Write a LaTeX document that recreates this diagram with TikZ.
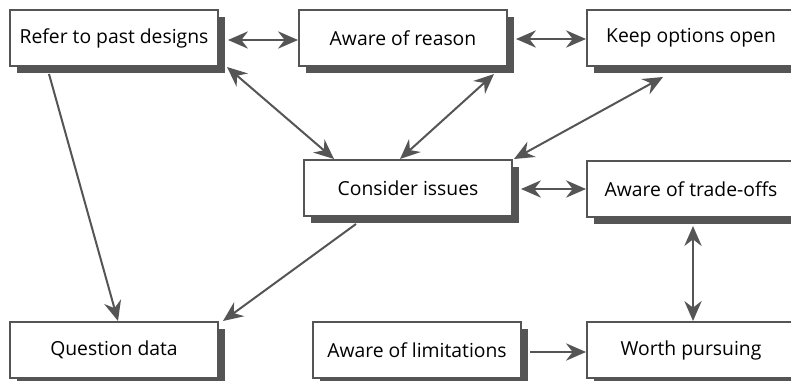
\documentclass[tikz,border=0pt]{standalone}
\usepackage{fontspec}
\setmainfont{Open Sans}
\usetikzlibrary{arrows.meta,calc,shadows}
\definecolor{linegray}{HTML}{555555}

\begin{document}
\begin{tikzpicture}[
  x=0.75pt,
  y=-0.75pt,
  line join=miter,
  box/.style={draw=linegray,line width=1.5pt,fill=white,
    minimum width=156pt,minimum height=42pt,inner sep=0pt,
    font=\fontsize{14.5}{17}\selectfont,
    drop shadow={shadow xshift=5.25pt,shadow yshift=-5.25pt,fill=linegray,opacity=1}},
  link/.style={draw=linegray,line width=1.5pt,{Stealth[length=15pt,width=13pt,inset=5pt]}-{Stealth[length=15pt,width=13pt,inset=5pt]}},
  flow/.style={draw=linegray,line width=1.5pt,-{Stealth[length=15pt,width=13pt,inset=5pt]}}
]
  \useasboundingbox (0,0) rectangle (791,381);
  \clip (0,0) rectangle (791,381);

  % Top row
  \node[box] (refer) at (114,38) {Refer to past designs};
  \node[box] (reason) at (403,38) {Aware of reason};
  \node[box] (keep) at (691,38) {Keep options open};

  % Middle row
  \node[box] (consider) at (408,188) {Consider issues};
  \node[box] (tradeoffs) at (691,189) {Aware of trade-offs};

  % Bottom row
  \node[box] (question) at (114,350) {Question data};
  \node[box] (limits) at (417,350) {Aware of limitations};
  \node[box] (worth) at (691,350) {Worth pursuing};

  % Two-way links
  \draw[link] ($(refer.east)+(9,2)$) -- ($(reason.west)+(0,2)$);
  \draw[link] ($(reason.east)+(8,1)$) -- ($(keep.west)+(0,1)$);
  \draw[link] ($(consider.east)+(8,1)$) -- ($(tradeoffs.west)+(0,0)$);
  \draw[link] ($(tradeoffs.south)+(2,8)$) -- ($(worth.north)+(2,0)$);
  \draw[link] ($(refer.south east)+(8,0)$) -- ($(consider.north west)+(31,0)$);
  \draw[link] ($(reason.south east)+(-14,7)$) -- ($(consider.north)+(-8,0)$);
  \draw[link] ($(keep.south)+(-28,10)$) -- ($(consider.north east)+(1,0)$);

  % One-way arrows
  \draw[flow] ($(refer.south west)+(40,7)$) -- ($(question.north)+(4,0)$);
  \draw[flow] ($(consider.south west)+(53,7)$) -- ($(question.north east)+(4,0)$);
  \draw[flow] ($(limits.east)+(8,2)$) -- ($(worth.west)+(0,2)$);
\end{tikzpicture}
\end{document}
